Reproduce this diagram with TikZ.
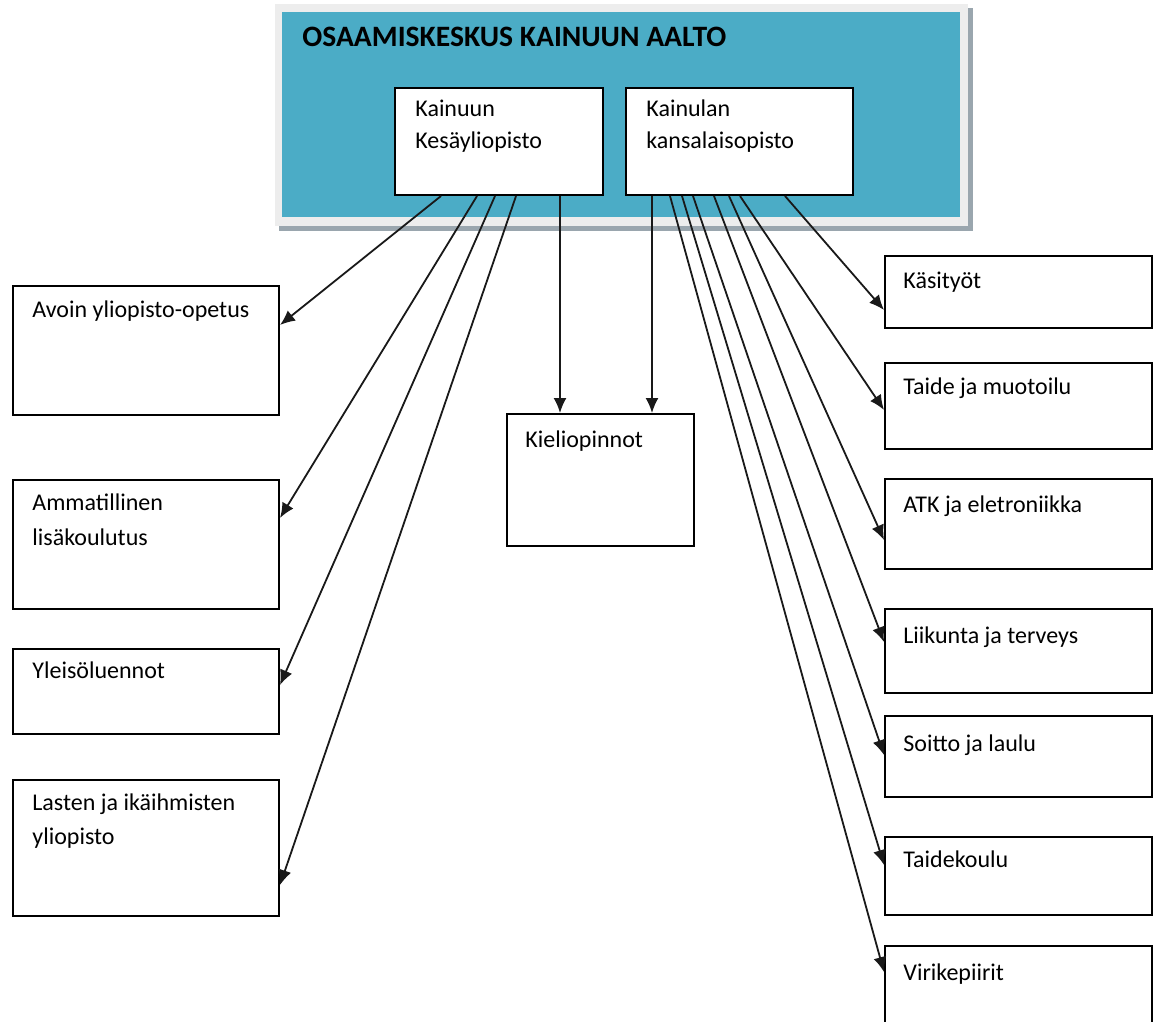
\documentclass[tikz,border=0pt]{standalone}
\usepackage{fontspec}
\setmainfont{Carlito}
\usetikzlibrary{arrows.meta,calc}
\definecolor{teal}{HTML}{4BACC6}
\definecolor{frame}{HTML}{EDEDED}
\definecolor{shadow}{HTML}{9AA6AE}
\begin{document}
\begin{tikzpicture}[x=0.5pt,y=-0.5pt,
  box/.style={draw=black,line width=1pt,fill=white,inner sep=0,anchor=north west},
  txt/.style={anchor=base west,inner sep=0,font=\fontsize{12}{14}\selectfont},
  conn/.style={draw=black!90,line width=0.9pt,-{Latex[length=7.5pt,width=6.5pt]}}]
\clip (0,0) rectangle (1154,1021);
\fill[white] (0,0) rectangle (1154,1021);
% outer frame
\fill[shadow] (279,8) rectangle (973,231);
\fill[frame] (275,4) rectangle (968,226);
\fill[teal] (282,12) rectangle (960,217);
\node[anchor=base west,inner sep=0,font=\fontsize{14.8}{16}\selectfont\bfseries] (title) at (302,47) {OSAAMISKESKUS KAINUUN AALTO};
% top boxes
\node[box,minimum width=104pt,minimum height=53.5pt] (kes) at (394,87) {};
\node[box,minimum width=113.5pt,minimum height=53.5pt] (kan) at (625,87) {};
\node[txt] (t1a) at (415,117) {Kainuun};
\node[txt] (t1b) at (415,149) {Kesäyliopisto};
\node[txt] (t2a) at (646,117) {Kainulan};
\node[txt] (t2b) at (646,149) {kansalaisopisto};
% left boxes
\node[box,minimum width=133pt,minimum height=64.5pt] (avoin) at (12,285) {};
\node[box,minimum width=133pt,minimum height=64.5pt] (amm) at (12,479) {};
\node[box,minimum width=133pt,minimum height=42.5pt] (yle) at (12,648) {};
\node[box,minimum width=133pt,minimum height=68pt] (las) at (12,779) {};
\node[txt] (tav) at (32,317) {Avoin yliopisto-opetus};
\node[txt] (tam1) at (32,510) {Ammatillinen};
\node[txt] (tam2) at (32,545) {lisäkoulutus};
\node[txt] (tyl) at (32,678) {Yleisöluennot};
\node[txt] (tla1) at (32,810) {Lasten ja ikäihmisten};
\node[txt] (tla2) at (32,844) {yliopisto};
% center box
\node[box,minimum width=93.5pt,minimum height=66pt] (kie) at (506,413) {};
\node[txt] (tki) at (525,447) {Kieliopinnot};
% right boxes
\node[box,minimum width=133.5pt,minimum height=36pt] (kas) at (884,255) {};
\node[box,minimum width=133.5pt,minimum height=43pt] (tai) at (884,362) {};
\node[box,minimum width=133.5pt,minimum height=45pt] (atk) at (884,478) {};
\node[box,minimum width=133.5pt,minimum height=42pt] (lii) at (884,608) {};
\node[box,minimum width=133.5pt,minimum height=40.5pt] (soi) at (884,715) {};
\node[box,minimum width=133.5pt,minimum height=39pt] (tak) at (884,836) {};
\node[box,minimum width=133.5pt,minimum height=50pt] (vir) at (884,945) {};
\node[txt] (tks) at (903,288) {Käsityöt};
\node[txt] (tta) at (903,394) {Taide ja muotoilu};
\node[txt] (tat) at (903,512) {ATK ja eletroniikka};
\node[txt] (tli) at (903,643) {Liikunta ja terveys};
\node[txt] (tso) at (903,751) {Soitto ja laulu};
\node[txt] (ttk) at (903,867) {Taidekoulu};
\node[txt] (tvi) at (903,980) {Virikepiirit};
% connectors from Kesäyliopisto
\draw[conn] ($(kes.south west)+(47,0)$) -- ($(avoin.north east)+(0,40)$);
\draw[conn] ($(kes.south west)+(83,0)$) -- ($(amm.north east)+(0,39)$);
\draw[conn] ($(kes.south west)+(101,0)$) -- ($(yle.north east)+(0,37)$);
\draw[conn] ($(kes.south west)+(122,0)$) -- ($(las.north east)+(0,106)$);
\draw[conn] ($(kes.south west)+(166,0)$) -- ($(kie.north west)+(54,0)$);
% connectors from kansalaisopisto
\draw[conn] ($(kan.south west)+(27,0)$) -- ($(kie.north west)+(146,0)$);
\draw[conn] ($(kan.south west)+(45,0)$) -- ($(vir.north west)+(0,27)$);
\draw[conn] ($(kan.south west)+(57,0)$) -- ($(tak.north west)+(0,29)$);
\draw[conn] ($(kan.south west)+(68,0)$) -- ($(soi.north west)+(0,40)$);
\draw[conn] ($(kan.south west)+(89,0)$) -- ($(lii.north west)+(0,34)$);
\draw[conn] ($(kan.south west)+(104,0)$) -- ($(atk.north west)+(0,62)$);
\draw[conn] ($(kan.south west)+(115,0)$) -- ($(tai.north west)+(0,48)$);
\draw[conn] ($(kan.south west)+(160,0)$) -- ($(kas.north west)+(0,55)$);
\end{tikzpicture}
\end{document}
